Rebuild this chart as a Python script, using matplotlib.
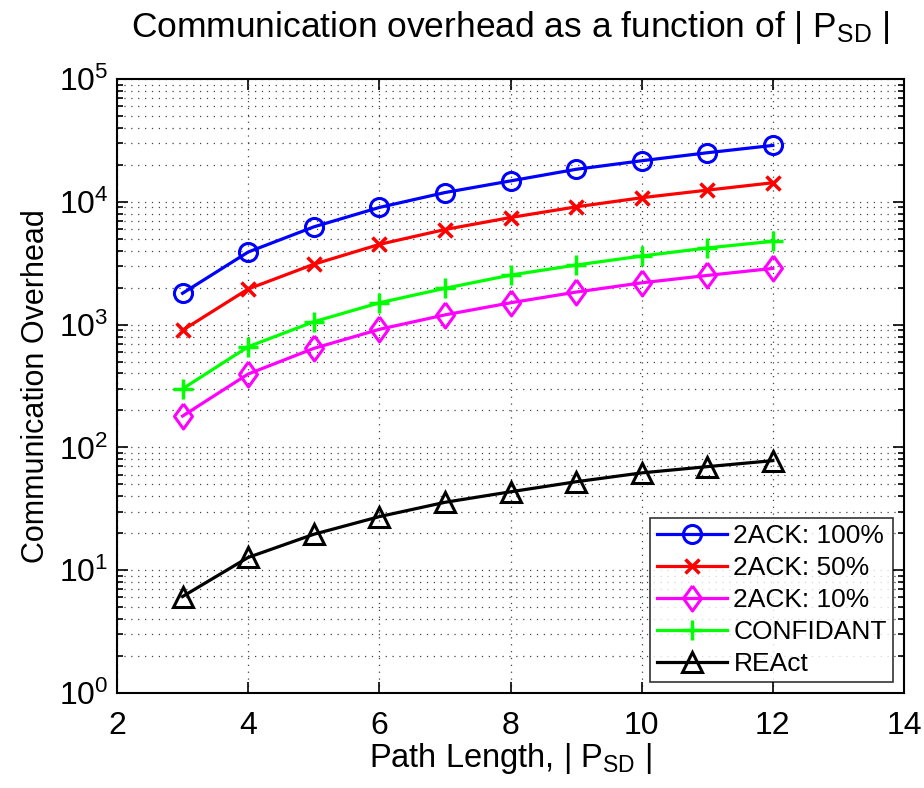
import numpy as np
import matplotlib
matplotlib.use('Agg')
import matplotlib.pyplot as plt
from matplotlib.ticker import LogLocator, NullFormatter, MultipleLocator

plt.rcParams.update({'font.family': 'Liberation Sans',
                     'mathtext.fontset': 'custom',
                     'mathtext.rm': 'Liberation Sans',
                     'mathtext.it': 'Liberation Sans',
                     'mathtext.bf': 'Liberation Sans'})

# path length |P_SD|
path_len = [3, 4, 5, 6, 7, 8, 9, 10, 11, 12]

ack_100 = [1800, 3900, 6250, 9000, 11900, 14800, 18400, 21600, 25100, 28800]
ack_50 = [900, 1950, 3100, 4500, 5950, 7450, 9100, 10800, 12450, 14300]
ack_10 = [180, 396, 640, 915, 1200, 1505, 1840, 2190, 2515, 2870]
confidant = [300, 660, 1055, 1505, 1975, 2530, 3055, 3620, 4210, 4770]
react = [6.1, 12.7, 19.6, 27.3, 35.7, 43.5, 52.5, 62, 69.7, 78]

fig = plt.figure(figsize=(9.24, 7.88), dpi=100)
ax = fig.add_axes([0.1266, 0.1206, 0.8518, 0.7791])

# matlab style diamond (taller than wide)
diamond = [(0, 1), (0.72, 0), (0, -1), (-0.72, 0), (0, 1)]

lw = 2.3
ax.plot(path_len, ack_100, '-o', color='#0000ff', lw=lw, ms=13, mew=2.2,
        mfc='none', label='2ACK: 100%')
ax.plot(path_len, ack_50, '-x', color='#ff0000', lw=lw, ms=10, mew=2.5,
        label='2ACK: 50%')
ax.plot(path_len, ack_10, '-', marker=diamond, color='#ff00ff', lw=lw, ms=18,
        mew=2.2, mfc='none', label='2ACK: 10%')
ax.plot(path_len, confidant, '-+', color='#00ff00', lw=lw, ms=15, mew=2.5,
        label='CONFIDANT')
ax.plot(path_len, react, '-^', color='black', lw=lw, ms=14, mew=2.2,
        mfc='none', label='REAct')

ax.set_yscale('log')
ax.set_xlim(2, 14)
ax.set_ylim(1, 1e5)
ax.xaxis.set_major_locator(MultipleLocator(2))
ax.yaxis.set_major_locator(LogLocator(base=10, numticks=10))
ax.yaxis.set_minor_locator(LogLocator(base=10, subs=np.arange(2, 10), numticks=20))
ax.yaxis.set_minor_formatter(NullFormatter())

ax.grid(True, which='major', ls=(0, (1, 4.5)), color='#444444', lw=0.9)
ax.grid(True, which='minor', axis='y', ls=(0, (1, 4.5)), color='#444444', lw=0.9)

ax.tick_params(which='both', direction='in', top=True, right=True, width=1.2)
ax.tick_params(which='major', length=8, labelsize=23)
ax.tick_params(axis='x', which='major', pad=13)
ax.tick_params(axis='y', which='major', pad=6)
ax.tick_params(which='minor', length=4)
for s in ax.spines.values():
    s.set_linewidth(1.5)

ax.set_title(r'Communication overhead as a function of $\mathregular{|\ P_{SD}\ |}$',
             fontsize=25.5, pad=30)
ax.set_xlabel(r'Path Length, $\mathregular{|\ P_{SD}\ |}$', fontsize=23.5, labelpad=0)
ax.set_ylabel('Communication Overhead', fontsize=22, labelpad=6)

leg = ax.legend(loc='lower right', fontsize=19, frameon=True, fancybox=False,
                edgecolor='black', handlelength=2.65, borderaxespad=0.4,
                labelspacing=0.3, handletextpad=0.25, borderpad=0.25)
leg.get_frame().set_linewidth(1.2)

fig.savefig('out.png', dpi=100)
